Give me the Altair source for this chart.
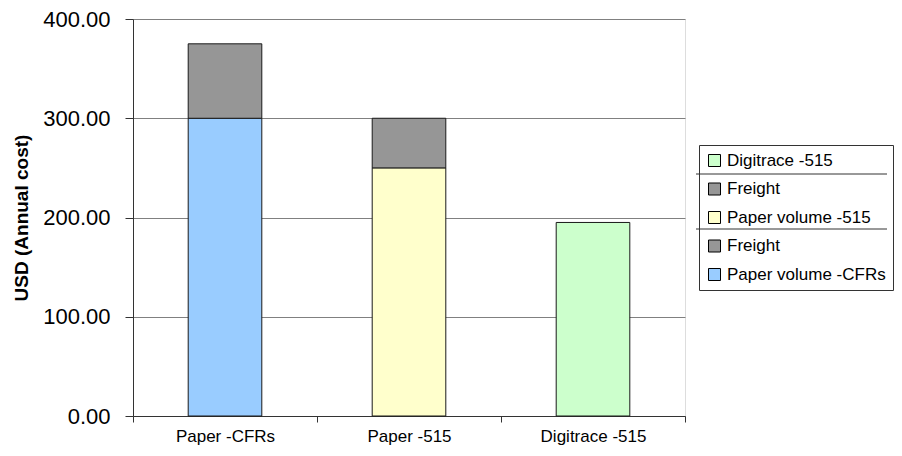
import altair as alt
import pandas as pd

# ---- data ----
categories = ["Paper -CFRs", "Paper -515", "Digitrace -515"]
series = ["Paper volume -CFRs", "Freight", "Paper volume -515", "Freight ", "Digitrace -515"]
series_category = ["Paper -CFRs", "Paper -CFRs", "Paper -515", "Paper -515", "Digitrace -515"]
values = [300.0, 75.0, 250.0, 50.0, 195.0]
stack_order = [0, 1, 0, 1, 0]

legend_order = ["Digitrace -515", "Freight ", "Paper volume -515", "Freight", "Paper volume -CFRs"]
legend_colors = ["#CCFFCC", "#969696", "#FFFFCC", "#969696", "#99CCFF"]
y_ticks = [0, 100, 200, 300, 400]

df = pd.DataFrame({
    "category": series_category,
    "series": series,
    "value": values,
    "stack": stack_order,
})

FONT = "Liberation Sans"

bars = alt.Chart(df).mark_bar(
    stroke="#1a1a1a", strokeWidth=1, width=alt.RelativeBandSize(0.4)
).encode(
    x=alt.X("category:N", sort=categories, title=None,
            scale=alt.Scale(paddingInner=0, paddingOuter=0),
            axis=alt.Axis(labelAngle=0, labelFontSize=17, labelFont=FONT, labelColor="black",
                          tickBand="extent", tickSize=6, tickColor="#333333",
                          domainColor="#333333", labelPadding=6, grid=False)),
    y=alt.Y("value:Q", stack="zero", title="USD (Annual cost)",
            scale=alt.Scale(domain=[0, 400], nice=False),
            axis=alt.Axis(values=y_ticks, format=".2f", labelFontSize=22, labelFont=FONT,
                          labelColor="black", labelPadding=15, tickSize=8, tickColor="#333333",
                          domainColor="#333333", gridColor="#808080", gridWidth=1,
                          titleFont=FONT, titleFontSize=19, titleFontWeight="bold",
                          titleColor="black", titleX=-102, titleBaseline="bottom")),
    color=alt.Color("series:N",
                    scale=alt.Scale(domain=legend_order, range=legend_colors),
                    legend=alt.Legend(title=None, orient="none", legendX=566, legendY=126,
                                      symbolType="square", symbolSize=144,
                                      symbolStrokeColor="black", symbolStrokeWidth=1,
                                      labelFontSize=17, labelFont=FONT, labelColor="black",
                                      labelLimit=400, labelOffset=4, rowPadding=10.5, padding=7,
                                      strokeColor="#333333")),
    order=alt.Order("stack:Q", sort="ascending"),
)

sep_df = pd.DataFrame({"sep": ["a", "b"]})
sep1 = alt.Chart(sep_df.iloc[[0]]).mark_rule(color="#333333", strokeWidth=1).encode(
    x=alt.value(563), x2=alt.value(754), y=alt.value(155))
sep2 = alt.Chart(sep_df.iloc[[1]]).mark_rule(color="#333333", strokeWidth=1).encode(
    x=alt.value(563), x2=alt.value(754), y=alt.value(210))

chart = alt.layer(bars, sep1, sep2).properties(
    width=552, height=397,
    autosize=alt.AutoSizeParams(type="none"),
    padding={"left": 125, "top": 11, "right": 209, "bottom": 32},
).configure_view(stroke="#808080", strokeWidth=1).configure(background="white")

chart.save("out.html", embed_options={"renderer": "svg", "actions": False})
